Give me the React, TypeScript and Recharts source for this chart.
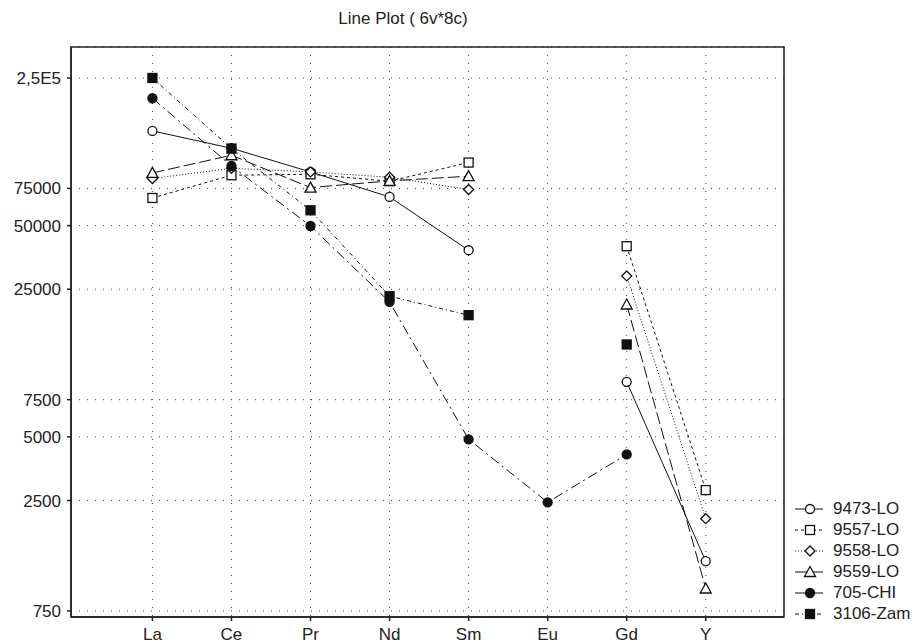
import { LineChart, Line, XAxis, YAxis, CartesianGrid, ReferenceArea } from 'recharts';

const CATEGORIES = ['La', 'Ce', 'Pr', 'Nd', 'Sm', 'Eu', 'Gd', 'Y'];
const Y_TICKS = [750, 2500, 5000, 7500, 25000, 50000, 75000, 250000];

const S9473 = [140400, 116200, 89800, 68350, 38240, null, 9110, 1290];
const S9557 = [67600, 86600, 87500, 81150, 99450, null, 39950, 2800];
const S9558 = [83550, 93460, 89800, 84700, 74100, null, 28900, 2050];
const S9559 = [88800, 107700, 75700, 81400, 85700, null, 21160, 958];
const S705 = [200400, 95800, 49800, 21770, 4870, 2450, 4130, null];
const S3106 = [250000, 115800, 59100, 23170, 18840, null, 13690, null];

const SERIES = [
  { key: 's9473', name: '9473-LO', values: S9473, dash: undefined, shape: 'circle', filled: false },
  { key: 's9557', name: '9557-LO', values: S9557, dash: '3 3', shape: 'square', filled: false },
  { key: 's9558', name: '9558-LO', values: S9558, dash: '1 2', shape: 'diamond', filled: false },
  { key: 's9559', name: '9559-LO', values: S9559, dash: '12 4', shape: 'triangle', filled: false },
  { key: 's705', name: '705-CHI', values: S705, dash: '10 4 2 4', shape: 'circle', filled: true },
  { key: 's3106', name: '3106-Zam', values: S3106, dash: '4 3 1 3', shape: 'square', filled: true },
];

const FONT = 'Liberation Sans, Arial, sans-serif';
const X_DOMAIN = [-1.03, 7.99];
const Y_DOMAIN = [702, 350400];

const data = CATEGORIES.map((c, i) => {
  const row: any = { x: i, name: c };
  SERIES.forEach((s) => {
    row[s.key] = s.values[i];
  });
  return row;
});

function Marker({ cx, cy, shape, filled }: any) {
  const fill = filled ? '#111' : '#fff';
  const common = { stroke: '#111', strokeWidth: 1.3, fill };
  if (shape === 'circle') return <circle cx={cx} cy={cy} r={4.5} {...common} />;
  if (shape === 'square') return <rect x={cx - 4.5} y={cy - 4.5} width={9} height={9} {...common} />;
  if (shape === 'diamond')
    return <polygon points={`${cx},${cy - 5} ${cx + 5},${cy} ${cx},${cy + 5} ${cx - 5},${cy}`} {...common} />;
  return <polygon points={`${cx},${cy - 5.5} ${cx + 5.5},${cy + 4.5} ${cx - 5.5},${cy + 4.5}`} {...common} />;
}

const makeDot = (shape: string, filled: boolean) => (props: any) => {
  const { cx, cy, value, index } = props;
  if (value == null || cx == null || cy == null) return <g key={`e-${index}`} />;
  return (
    <g key={`d-${index}`}>
      <Marker cx={cx} cy={cy} shape={shape} filled={filled} />
    </g>
  );
};

function LegendBox() {
  return (
    <div style={{ position: 'absolute', left: 793, top: 498, fontFamily: FONT, fontSize: 17, color: '#222' }}>
      {SERIES.map((s) => (
        <div key={s.key} style={{ display: 'flex', alignItems: 'center', height: 21.1 }}>
          <svg width={32} height={14}>
            <line x1={2} y1={7} x2={30} y2={7} stroke="#111" strokeWidth={1} strokeDasharray={s.dash} />
            <Marker cx={17} cy={7} shape={s.shape} filled={s.filled} />
          </svg>
          <span style={{ marginLeft: 8 }}>{s.name}</span>
        </div>
      ))}
    </div>
  );
}

export default function App() {
  return (
    <div style={{ position: 'absolute', left: 0, top: 0, width: 923, height: 643, background: '#fff' }}>
      <div
        style={{
          position: 'absolute',
          top: 9,
          left: 253,
          width: 300,
          textAlign: 'center',
          fontFamily: FONT,
          fontSize: 17,
          color: '#222',
        }}
      >
        Line Plot ( 6v*8c)
      </div>
      <LineChart width={923} height={643} data={data} margin={{ top: 47, right: 139, bottom: 0, left: 0 }}>
        <CartesianGrid stroke="#444" strokeDasharray="1 7" strokeWidth={1} />
        <XAxis
          dataKey="x"
          type="number"
          domain={X_DOMAIN}
          ticks={[0, 1, 2, 3, 4, 5, 6, 7]}
          tickFormatter={(v: number) => CATEGORIES[v] ?? ''}
          allowDataOverflow
          height={26}
          stroke="#222"
          strokeWidth={1.5}
          tickSize={4}
          tickMargin={7}
          tick={{ fill: '#222', fontSize: 17, fontFamily: FONT }}
        />
        <YAxis
          scale="log"
          type="number"
          domain={Y_DOMAIN}
          ticks={Y_TICKS}
          allowDataOverflow
          width={71}
          stroke="#222"
          strokeWidth={1.5}
          tickSize={4}
          tickMargin={6}
          tickFormatter={(v: number) => (v === 250000 ? '2,5E5' : String(v))}
          tick={{ fill: '#222', fontSize: 17, fontFamily: FONT }}
        />
        <ReferenceArea
          x1={X_DOMAIN[0]}
          x2={X_DOMAIN[1]}
          y1={Y_DOMAIN[0]}
          y2={Y_DOMAIN[1]}
          fill="none"
          fillOpacity={0}
          stroke="#222"
          strokeWidth={1.5}
          ifOverflow="visible"
        />
        {SERIES.map((s) => (
          <Line
            key={s.key}
            dataKey={s.key}
            name={s.name}
            stroke="#111"
            strokeWidth={1}
            strokeDasharray={s.dash}
            dot={makeDot(s.shape, s.filled)}
            activeDot={false}
            isAnimationActive={false}
          />
        ))}
      </LineChart>
      <LegendBox />
    </div>
  );
}
